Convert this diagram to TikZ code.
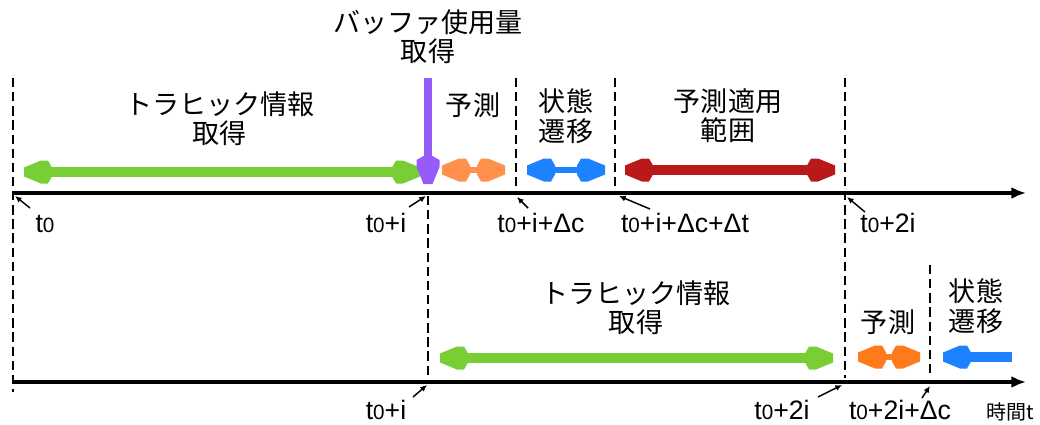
\documentclass[tikz,border=0pt]{standalone}
\usepackage{fontspec}
\setmainfont{Liberation Sans}
\newfontfamily\jp{Noto Sans CJK JP}
\usetikzlibrary{arrows.meta}
\definecolor{cgreen}{RGB}{120,206,52}
\definecolor{corange}{RGB}{255,145,77}
\definecolor{corangeb}{RGB}{255,122,26}
\definecolor{cblue}{RGB}{28,130,255}
\definecolor{cred}{RGB}{185,25,25}
\definecolor{cpurple}{RGB}{150,92,250}
\newcommand\hexhead[3]{\fill[#3,shift={(#1)},rotate=#2] (0,-4.5) -- (0,4.5) -- (-17,11.5) -- (-24,11.5) -- (-28,4.5) -- (-28,-4.5) -- (-24,-11.5) -- (-17,-11.5) -- cycle;}
\newcommand\zsm{{\fontsize{15.5}{14}\selectfont 0}}
\tikzset{
  axis/.style={line width=3.2pt,-{Latex[length=11pt,width=9pt]}},
  vdash/.style={line width=1.3pt,dash pattern=on 7pt off 3.6pt},
  lab/.style={font=\fontsize{20}{22}\selectfont,inner sep=0pt},
  jpt/.style={font=\jp\fontsize{20.3}{22}\selectfont,align=center,inner sep=0pt},
  jps/.style={font=\jp\fontsize{15}{16}\selectfont,inner sep=0pt},
  ptr/.style={line width=1.1pt,-{Latex[length=5pt,width=4.5pt]}},
}
\begin{document}
\begin{tikzpicture}[x=0.75pt,y=-0.75pt]
\useasboundingbox (0,0) rectangle (1040,425);
% axes
\coordinate (a1s) at (12,193); \coordinate (a1e) at (1026,193);
\coordinate (a2s) at (12,382); \coordinate (a2e) at (1026,382);
\draw[axis] (a1s) -- (a1e);
\draw[axis] (a2s) -- (a2e);
% dashed verticals
\coordinate (d1a) at (13,78);  \coordinate (d1b) at (13,392);
\coordinate (d2a) at (428,196); \coordinate (d2b) at (428,378);
\coordinate (d3a) at (516,78); \coordinate (d3b) at (516,190);
\coordinate (d4a) at (615,78); \coordinate (d4b) at (615,190);
\coordinate (d5a) at (845,78); \coordinate (d5b) at (845,378);
\coordinate (d6a) at (930,265); \coordinate (d6b) at (930,378);
\foreach \p in {1,...,6} \draw[vdash] (d\p a) -- (d\p b);
% top arrows
\coordinate (g1a) at (24,172); \coordinate (g1b) at (420,172);
\draw[cgreen,line width=6.8pt] ([xshift=15pt]g1a) -- ([xshift=-15pt]g1b);
\hexhead{g1a}{180}{cgreen}\hexhead{g1b}{0}{cgreen}
\coordinate (o1a) at (442,170); \coordinate (o1b) at (505,170);
\draw[corange,line width=5pt] ([xshift=15pt]o1a) -- ([xshift=-15pt]o1b);
\hexhead{o1a}{180}{corange}\hexhead{o1b}{0}{corange}
\coordinate (b1a) at (527,170); \coordinate (b1b) at (605,170);
\draw[cblue,line width=4.8pt] ([xshift=15pt]b1a) -- ([xshift=-15pt]b1b);
\hexhead{b1a}{180}{cblue}\hexhead{b1b}{0}{cblue}
\coordinate (r1a) at (625,170); \coordinate (r1b) at (835,170);
\draw[cred,line width=6.8pt] ([xshift=15pt]r1a) -- ([xshift=-15pt]r1b);
\hexhead{r1a}{180}{cred}\hexhead{r1b}{0}{cred}
% purple
\coordinate (pa) at (428,78); \coordinate (pb) at (428,184);
\draw[cpurple,line width=6.5pt] (pa) -- ([yshift=15pt]pb);
\hexhead{pb}{-90}{cpurple}
% bottom arrows
\coordinate (g2a) at (440,358); \coordinate (g2b) at (833,358);
\draw[cgreen,line width=6.8pt] ([xshift=15pt]g2a) -- ([xshift=-15pt]g2b);
\hexhead{g2a}{180}{cgreen}\hexhead{g2b}{0}{cgreen}
\coordinate (o2a) at (858,357); \coordinate (o2b) at (920,357);
\draw[corangeb,line width=5pt] ([xshift=15pt]o2a) -- ([xshift=-15pt]o2b);
\hexhead{o2a}{180}{corangeb}\hexhead{o2b}{0}{corangeb}
\coordinate (b2a) at (943,357); \coordinate (b2b) at (1012,357);
\draw[cblue,line width=7pt] ([xshift=15pt]b2a) -- (b2b);
\hexhead{b2a}{180}{cblue}
% Japanese texts
\node[jpt] (tr1) at (220,119) {トラヒック情報\\取得};
\node[jpt] (buf) at (428,37) {バッファ使用量\\取得};
\node[jpt] (pr1) at (473,105) {予測};
\node[jpt] (st1) at (566,116) {状態\\遷移};
\node[jpt] (ap1) at (728,116) {予測適用\\範囲};
\node[jpt] (tr2) at (636,308) {トラヒック情報\\取得};
\node[jpt] (pr2) at (888,322) {予測};
\node[jpt] (st2) at (976,306) {状態\\遷移};
% time labels
\node[lab,anchor=base] (l1) at (45,232) {t\zsm};
\node[lab,anchor=base] (l2) at (386,232) {t\zsm+i};
\node[lab,anchor=base] (l3) at (541,232) {t\zsm+i+Δc};
\node[lab,anchor=base] (l4) at (685,232) {t\zsm+i+Δc+Δt};
\node[lab,anchor=base] (l5) at (888,232) {t\zsm+2i};
\node[lab,anchor=base] (m1) at (386,419) {t\zsm+i};
\node[lab,anchor=base] (m2) at (782,419) {t\zsm+2i};
\node[lab,anchor=base] (m3) at (900,419) {t\zsm+2i+Δc};
\node[jps,anchor=base] (tt) at (1010,419) {時間t};
% pointers
\coordinate (p1s) at (30,208); \coordinate (p1e) at (15,196);
\coordinate (p2s) at (409,207); \coordinate (p2e) at (426,196);
\coordinate (p3s) at (528,208); \coordinate (p3e) at (517,197);
\coordinate (p4s) at (650,209); \coordinate (p4e) at (619,196);
\coordinate (p5s) at (865,212); \coordinate (p5e) at (847,197);
\coordinate (q1s) at (413,397); \coordinate (q1e) at (427,385);
\coordinate (q2s) at (818,397); \coordinate (q2e) at (842,385);
\coordinate (q3s) at (922,398); \coordinate (q3e) at (930,386);
\foreach \p in {p1,p2,p3,p4,p5,q1,q2,q3} \draw[ptr] (\p s) -- (\p e);
\end{tikzpicture}
\end{document}
